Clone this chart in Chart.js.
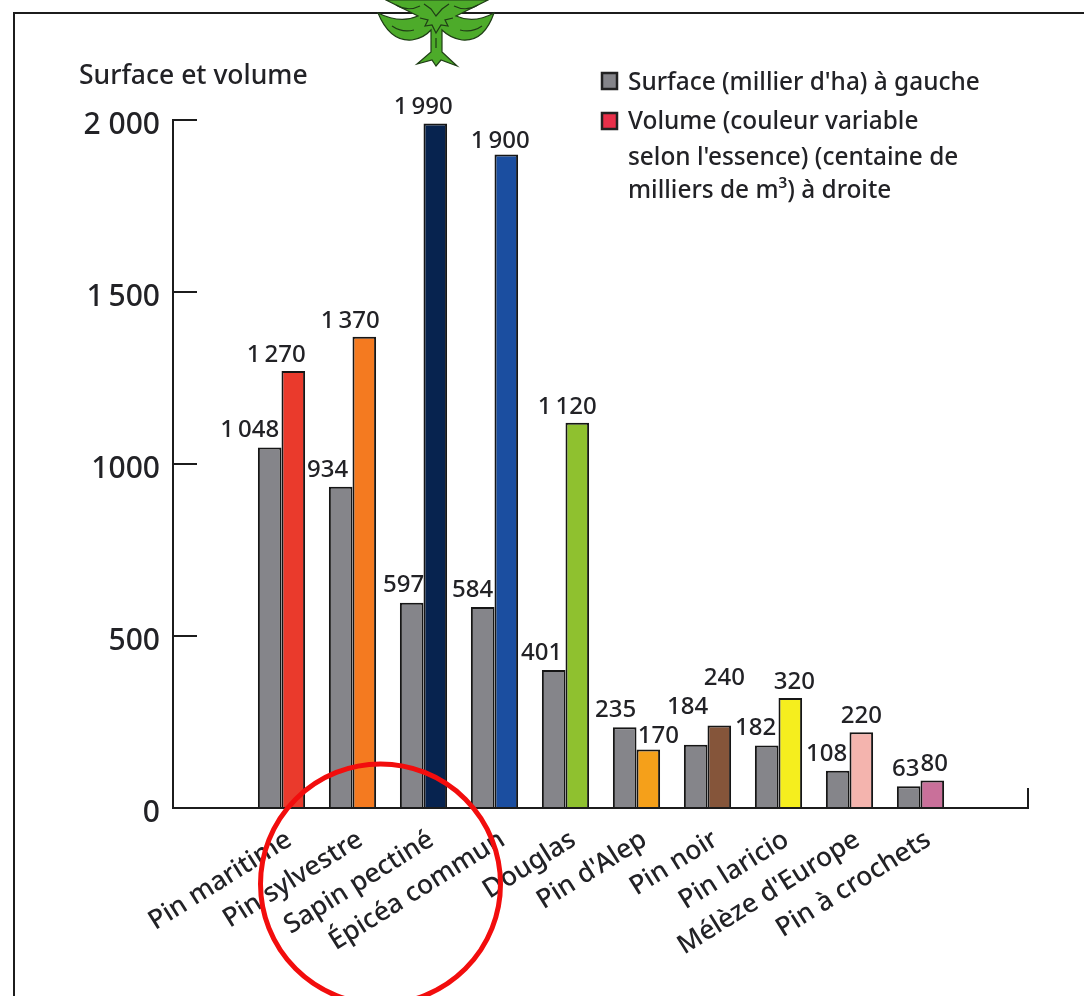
<!DOCTYPE html>
<html lang="fr">
<head>
  <meta charset="UTF-8" />
  <title>Surface et volume</title>
  <script src="https://cdn.jsdelivr.net/npm/chart.js"></script>
  <style>
    body { margin: 0; background: #fff; }
    canvas { display: block; }
  </style>
</head>
<body>
  <canvas id="chart" width="1084" height="996"></canvas>

  <script>
    const essences = ['Pin maritime', 'Pin sylvestre', 'Sapin pectiné', 'Épicéa commun', 'Douglas',
      "Pin d'Alep", 'Pin noir', 'Pin laricio', "Mélèze d'Europe", 'Pin à crochets'];
    const surface = [1048, 934, 597, 584, 401, 235, 184, 182, 108, 63];
    const volume = [1270, 1370, 1990, 1900, 1120, 170, 240, 320, 220, 80];
    const volumeColors = ['#ea3a2c', '#f47a20', '#07234f', '#1b4ea0', '#8fc12f',
      '#f5a01a', '#85553a', '#f5ee1e', '#f4b4ae', '#c9709a'];
    const surfaceColor = '#85858a';
    const yTickLabels = { 0: '0', 500: '500', 1000: '1000', 1500: '1\u2009500', 2000: '2 000' };
    const axisTitle = 'Surface et volume';
    const legendSurface = "Surface (millier d'ha) à gauche";
    const legendVolume = ['Volume (couleur variable', "selon l'essence) (centaine de", 'milliers de m³) à droite'];

    const FONT = '"Noto Sans", sans-serif';
    const INK = '#222226';

    // empty categories at both ends leave the space the axis has around the bars
    const labels = ['', ...essences, ''];
    const pad = arr => [null, ...arr, null];

    // hand placement of the value labels, relative to their bar top
    const surfaceNudge = [-20, -13, -8, -10, -12, -9, -8, -11, -11, -3];
    const volumeNudge = [-17, -14, -12, -6, -10, 10, 5, 4, 0, 2];
    const surfaceLift = [0, 0, 0, 0, 0, 0, 21, 0, 0, 0];
    const volumeLift = [0, 0, 0, -3, 0, -3, 31, 0, 0, 0];

    const thin = n => String(n).replace(/\B(?=(\d{3})$)/, '\u2009');

    function drawTree(c) {
      c.save();
      c.fillStyle = '#4dab2a';
      c.strokeStyle = '#1f3d16';
      c.lineWidth = 1.2;
      c.beginPath();
      c.moveTo(378, 13);
      c.quadraticCurveTo(390, 42, 412, 40);
      c.quadraticCurveTo(424, 38, 431, 30);
      c.lineTo(431, 52);
      c.lineTo(417, 64);
      c.lineTo(432, 60);
      c.lineTo(436, 66);
      c.lineTo(441, 60);
      c.lineTo(457, 66);
      c.lineTo(442, 52);
      c.lineTo(442, 30);
      c.quadraticCurveTo(450, 38, 462, 40);
      c.quadraticCurveTo(484, 42, 494, 13);
      c.quadraticCurveTo(474, 24, 456, 16);
      c.lineTo(488, 0);
      c.lineTo(386, 0);
      c.lineTo(418, 16);
      c.quadraticCurveTo(400, 24, 378, 13);
      c.closePath();
      c.fill();
      c.stroke();
      c.beginPath();
      c.moveTo(392, 26); c.quadraticCurveTo(402, 33, 414, 30);
      c.moveTo(482, 26); c.quadraticCurveTo(472, 33, 460, 30);
      c.moveTo(436, 38); c.lineTo(436, 48);
      // spiky crown in the middle
      c.moveTo(420, 18); c.lineTo(428, 20); c.lineTo(425, 26); c.lineTo(432, 25);
      c.lineTo(436, 33); c.lineTo(441, 25); c.lineTo(448, 26); c.lineTo(445, 20); c.lineTo(453, 18);
      c.moveTo(424, 4); c.lineTo(431, 9); c.lineTo(436, 16); c.lineTo(442, 9); c.lineTo(449, 4);
      c.moveTo(396, 5); c.quadraticCurveTo(408, 12, 420, 6);
      c.moveTo(478, 5); c.quadraticCurveTo(466, 12, 454, 6);
      c.stroke();
      c.restore();
    }

    const decor = {
      id: 'decor',
      afterDraw(chart) {
        const c = chart.ctx;
        const ys = chart.scales.y;
        const y0 = ys.getPixelForValue(0);

        c.save();
        // frame of the figure
        c.strokeStyle = '#1c1c1c';
        c.lineWidth = 2;
        c.beginPath();
        c.moveTo(14, 996);
        c.lineTo(14, 13);
        c.lineTo(1084, 13);
        c.stroke();

        // axes with inward ticks
        c.beginPath();
        c.moveTo(197, ys.getPixelForValue(2000));
        c.lineTo(173, ys.getPixelForValue(2000));
        c.lineTo(173, y0);
        c.lineTo(1028, y0);
        c.lineTo(1028, y0 - 20);
        [500, 1000, 1500].forEach(v => {
          c.moveTo(173, ys.getPixelForValue(v));
          c.lineTo(197, ys.getPixelForValue(v));
        });
        c.stroke();

        // value labels
        c.fillStyle = INK;
        c.font = '500 24px ' + FONT;
        c.textAlign = 'center';
        c.textBaseline = 'middle';
        const surfaceBars = chart.getDatasetMeta(0).data;
        const volumeBars = chart.getDatasetMeta(1).data;
        essences.forEach((_, i) => {
          const a = surfaceBars[i + 1], b = volumeBars[i + 1];
          c.fillText(thin(surface[i]), a.x + surfaceNudge[i], a.y - 17 - surfaceLift[i]);
          c.fillText(thin(volume[i]), b.x + volumeNudge[i], b.y - 16 - volumeLift[i]);
        });

        // title of the axis
        c.textAlign = 'left';
        c.font = '500 26.5px ' + FONT;
        c.fillText(axisTitle, 79, 76);

        // legend
        c.font = '500 24.4px ' + FONT;
        c.fillText(legendSurface, 628, 83);
        legendVolume.forEach((t, i) => c.fillText(t, 628, [122, 158, 191][i]));
        c.lineWidth = 2.5;
        c.strokeStyle = '#222';
        c.fillStyle = surfaceColor;
        c.fillRect(602, 73, 15, 16);
        c.strokeRect(602, 73, 15, 16);
        c.fillStyle = '#e8304a';
        c.fillRect(602, 113, 15, 16);
        c.strokeRect(602, 113, 15, 16);

        drawTree(c);

        // red circle over the labels
        c.strokeStyle = '#f20d0d';
        c.lineWidth = 5;
        c.beginPath();
        c.arc(380.5, 884, 120, 0, Math.PI * 2);
        c.stroke();
        c.restore();
      }
    };

    new Chart(document.getElementById('chart'), {
      type: 'bar',
      data: {
        labels: labels,
        datasets: [
          { label: 'Surface', data: pad(surface), backgroundColor: surfaceColor },
          { label: 'Volume', data: pad(volume), backgroundColor: pad(volumeColors) }
        ]
      },
      options: {
        responsive: false,
        animation: false,
        layout: { padding: { top: 120, right: 57 } },
        datasets: {
          bar: { categoryPercentage: 0.665, barPercentage: 1, borderColor: '#161616', borderWidth: 2 }
        },
        plugins: { legend: { display: false }, tooltip: { enabled: false } },
        scales: {
          x: {
            grid: { display: false },
            border: { display: false },
            afterFit(scale) { scale.height = 188; },
            ticks: {
              autoSkip: false,
              minRotation: 32,
              maxRotation: 32,
              padding: 8,
              labelOffset: 8,
              color: INK,
              font: { family: '"Noto Sans", sans-serif', size: 26.5, weight: '500' }
            }
          },
          y: {
            min: 0,
            max: 2000,
            grid: { display: false },
            border: { display: false },
            afterFit(scale) { scale.width = 175; },
            ticks: {
              stepSize: 500,
              padding: 7,
              labelOffset: 5,
              color: INK,
              font: { family: '"Noto Sans", sans-serif', size: 30, weight: '500' },
              callback: v => yTickLabels[v]
            }
          }
        }
      },
      plugins: [decor]
    });
  </script>
</body>
</html>
